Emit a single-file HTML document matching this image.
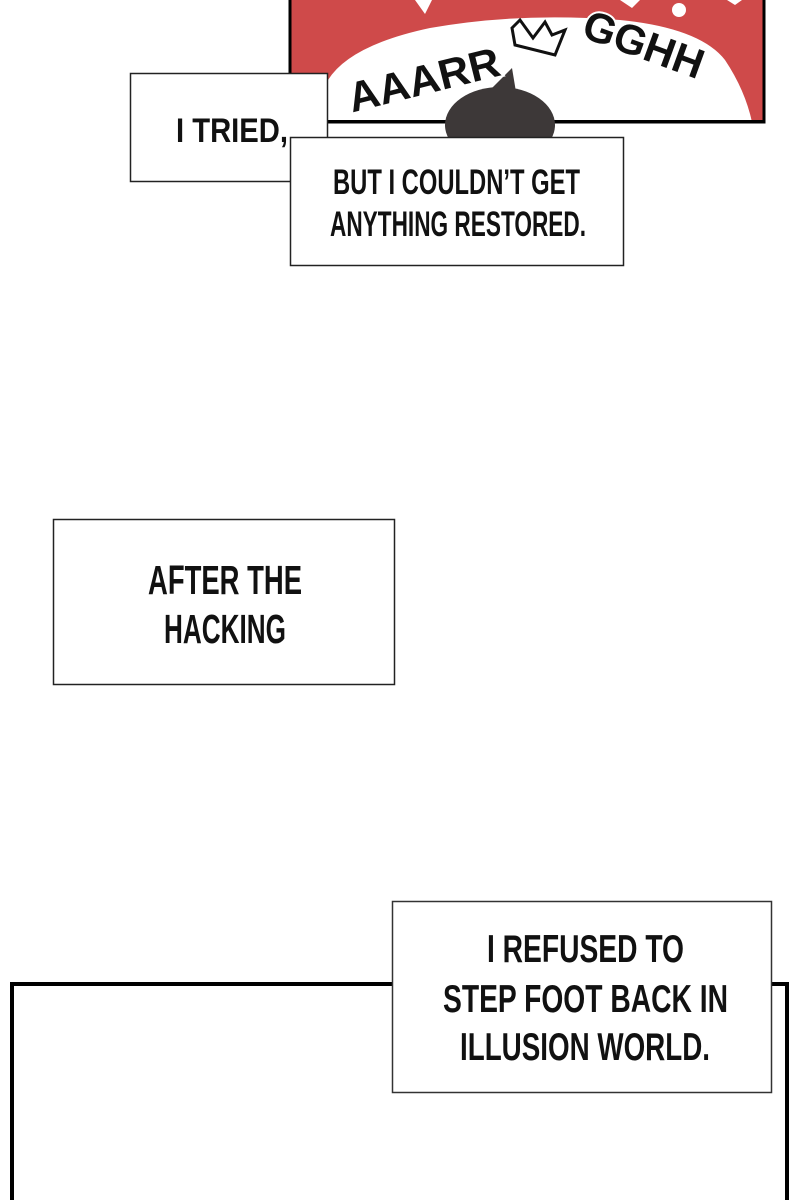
<!DOCTYPE html>
<html><head><meta charset="utf-8"><style>html,body{margin:0;padding:0;background:#fff}svg{display:block}</style></head>
<body>
<svg width="800" height="1200" viewBox="0 0 800 1200" xmlns="http://www.w3.org/2000/svg">
<rect width="800" height="1200" fill="#fff"/>
<!-- top red panel -->
<rect x="290" y="-5" width="474" height="127" fill="#cf4a4a" stroke="#000" stroke-width="3"/>
<path d="M328 122 L328 80 Q350 45 430 28 Q520 12 620 20 Q700 28 725 60 Q745 90 752 122 Z" fill="#fff"/>
<circle cx="679" cy="10" r="7" fill="#fff"/>
<path d="M415 0 L425 14 L432 0 Z" fill="#fff"/>
<path d="M620 0 L632 8 L640 0 Z" fill="#fff"/>
<path d="M727 0 L735 5 L742 0 Z" fill="#fff"/>
<rect x="290" y="120" width="474" height="3" fill="#000"/>
<ellipse cx="500" cy="125" rx="55" ry="38" fill="#3d3838"/>
<path d="M488 92 L512 68 L516 92 Z" fill="#3d3838"/>
<g font-family="Liberation Sans, sans-serif" font-weight="bold" fill="#111" stroke="#fff" stroke-width="4" paint-order="stroke">
<text x="345" y="95" font-size="42" textLength="155" lengthAdjust="spacingAndGlyphs" transform="rotate(-14 420 75)">AAARR</text>
<path d="M512 28 L520 20 L533 38 L545 22 L552 35 L565 30 L555 55 L515 45 Z" fill="none" stroke="#111" stroke-width="3"/>
<text x="575" y="55" font-size="42" textLength="125" lengthAdjust="spacingAndGlyphs" transform="rotate(20 630 60)">GGHH</text>
</g>
<!-- caption boxes -->
<g fill="#fff" stroke="#222" stroke-width="1.5">
<rect x="130.5" y="73.5" width="197" height="108"/>
<rect x="290.5" y="137.5" width="333" height="128"/>
<rect x="53.5" y="519.5" width="341" height="165"/>
</g>
<!-- bottom panel -->
<path d="M12 1200 L12 984 L787 984 L787 1200" fill="none" stroke="#000" stroke-width="4"/>
<rect x="392.5" y="901.5" width="379" height="191" fill="#fff" stroke="#333" stroke-width="1.5"/>
<g font-family="Liberation Sans, sans-serif" font-weight="bold" fill="#111">
<text x="176" y="142" font-size="34" textLength="112" lengthAdjust="spacingAndGlyphs">I TRIED,</text>
<text x="333" y="194" font-size="35" textLength="247" lengthAdjust="spacingAndGlyphs">BUT I COULDN’T GET</text>
<text x="330" y="236" font-size="35" textLength="256" lengthAdjust="spacingAndGlyphs">ANYTHING RESTORED.</text>
<text x="148" y="594" font-size="41" textLength="154" lengthAdjust="spacingAndGlyphs">AFTER THE</text>
<text x="164" y="643" font-size="41" textLength="122" lengthAdjust="spacingAndGlyphs">HACKING</text>
<text x="487" y="962" font-size="39" textLength="197" lengthAdjust="spacingAndGlyphs">I REFUSED TO</text>
<text x="443" y="1012" font-size="39" textLength="285" lengthAdjust="spacingAndGlyphs">STEP FOOT BACK IN</text>
<text x="460" y="1060" font-size="39" textLength="250" lengthAdjust="spacingAndGlyphs">ILLUSION WORLD.</text>
</g>
</svg>
</body></html>
